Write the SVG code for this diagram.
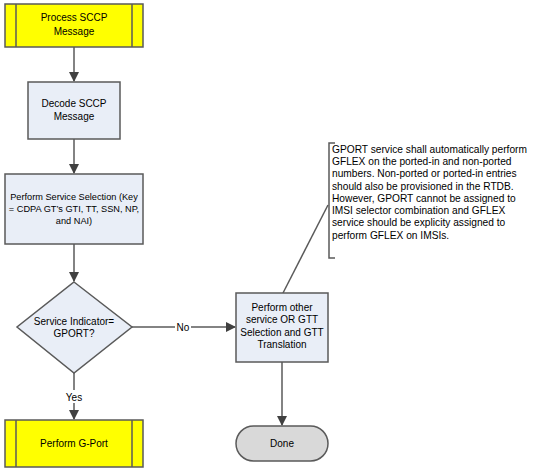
<svg xmlns="http://www.w3.org/2000/svg" width="535" height="471" viewBox="0 0 535 471">
<defs>
<style>
.yel{fill:#ffff00;stroke:#5a5a5a;stroke-width:1.5}
.box{fill:#e9eef7;stroke:#5a5a5a;stroke-width:1.5}
.term{fill:#d9d9d9;stroke:#5a5a5a;stroke-width:1.5}
.ln{fill:none;stroke:#5a5a5a;stroke-width:1.5}
.conn{fill:none;stroke:#5a5a5a;stroke-width:1.5;marker-end:url(#ah)}
.t{font-family:"Liberation Sans",Arial,sans-serif;font-size:10px;fill:#000;text-anchor:middle}
.s{font-size:9.2px}
.n{font-family:"Liberation Sans",Arial,sans-serif;font-size:10.2px;fill:#000}
.lbl{fill:#ffffff;stroke:none}
</style>
<marker id="ah" markerWidth="10" markerHeight="10" refX="9" refY="5" orient="auto" markerUnits="userSpaceOnUse">
<path d="M0,0 L10,5 L0,10 z" fill="#404040"/>
</marker>
</defs>
<rect width="535" height="471" fill="#ffffff"/>
<g id="connectors">
<line class="conn" x1="74" y1="47" x2="74" y2="81"/>
<line class="conn" x1="74" y1="139" x2="74" y2="173"/>
<line class="conn" x1="74" y1="244" x2="74" y2="281"/>
<line class="conn" x1="132" y1="327" x2="235" y2="327"/>
<line class="conn" x1="74" y1="373" x2="74" y2="419"/>
<line class="conn" x1="282" y1="362" x2="282" y2="425"/>
<polyline class="ln" points="283,293 328,205" stroke-width="1"/>
<rect class="lbl" x="175" y="320" width="16" height="13"/>
<text class="t" x="183" y="331">No</text>
<rect class="lbl" x="65" y="390" width="18" height="13"/>
<text class="t" x="74" y="401">Yes</text>
</g>
<g id="process-sccp">
<rect class="yel" x="5" y="4" width="138" height="43"/>
<line class="ln" x1="16" y1="4" x2="16" y2="47"/>
<line class="ln" x1="132" y1="4" x2="132" y2="47"/>
<text class="t" x="74" y="21">Process SCCP</text>
<text class="t" x="74" y="35">Message</text>
</g>
<g id="decode">
<rect class="box" x="28" y="82" width="92" height="57"/>
<text class="t" x="74" y="107">Decode SCCP</text>
<text class="t" x="74" y="120">Message</text>
</g>
<g id="service-selection">
<rect class="box" x="5" y="174" width="138" height="70"/>
<text class="t s" x="74" y="200">Perform Service Selection (Key</text>
<text class="t s" x="74" y="212">= CDPA GT’s GTI, TT, SSN, NP,</text>
<text class="t s" x="74" y="224">and NAI)</text>
</g>
<g id="decision">
<polygon class="box" points="74,282 132,327 74,373 17,327"/>
<text class="t" x="74" y="325">Service Indicator=</text>
<text class="t" x="74" y="337">GPORT?</text>
</g>
<g id="perform-other">
<rect class="box" x="236" y="293" width="92" height="69"/>
<text class="t" x="282" y="311">Perform other</text>
<text class="t" x="282" y="323">service OR GTT</text>
<text class="t" x="282" y="336">Selection and GTT</text>
<text class="t" x="282" y="348">Translation</text>
</g>
<g id="done">
<rect class="term" x="236" y="426" width="92" height="35" rx="17.5" ry="17.5"/>
<text class="t" x="282" y="447">Done</text>
</g>
<g id="perform-gport">
<rect class="yel" x="5" y="420" width="138" height="47"/>
<line class="ln" x1="16" y1="420" x2="16" y2="467"/>
<line class="ln" x1="132" y1="420" x2="132" y2="467"/>
<text class="t" x="74" y="447">Perform G-Port</text>
</g>
<g id="annotation">
<polyline class="ln" points="335,143 329,143 329,258 335,258" stroke-width="1"/>
<text class="n" x="332" y="153">GPORT service shall automatically perform</text>
<text class="n" x="332" y="165">GFLEX on the ported-in and non-ported</text>
<text class="n" x="332" y="177">numbers. Non-ported or ported-in entries</text>
<text class="n" x="332" y="190">should also be provisioned in the RTDB.</text>
<text class="n" x="332" y="202">However, GPORT cannot be assigned to</text>
<text class="n" x="332" y="214">IMSI selector combination and GFLEX</text>
<text class="n" x="332" y="226">service should be explicity assigned to</text>
<text class="n" x="332" y="239">perform GFLEX on IMSIs.</text>
</g>
</svg>
